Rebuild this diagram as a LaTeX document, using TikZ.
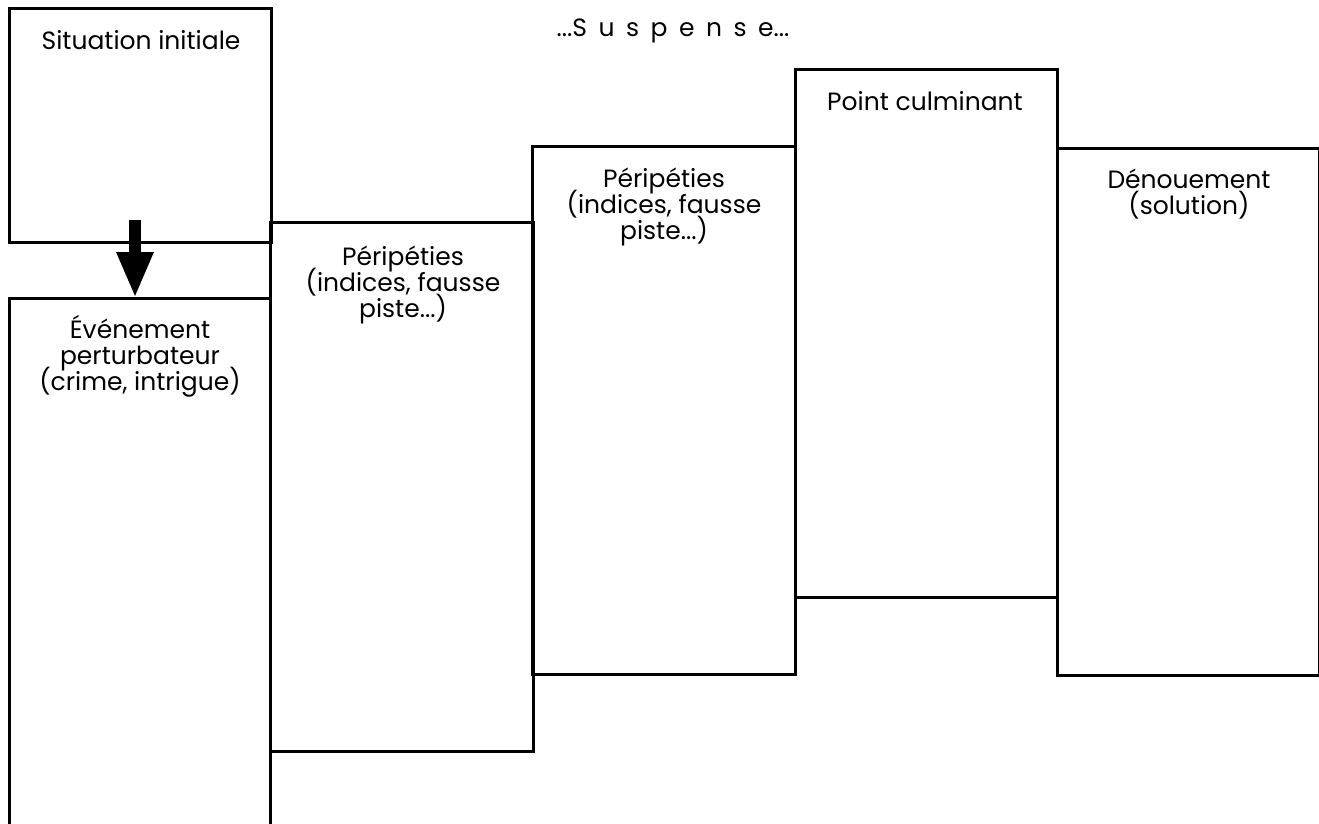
\documentclass[tikz,border=0pt]{standalone}
\usepackage{fontspec}
\setmainfont{Poppins}
\usetikzlibrary{arrows.meta}
\newcommand\lblfont{\fontsize{25}{26}\selectfont\lineskiplimit=-100pt\relax\lineskip=0pt\relax}
\tikzset{
  box/.style={draw=black, line width=3pt, anchor=north west, inner sep=0pt, outer sep=0pt},
  lbl/.style={anchor=base, align=center, inner sep=0pt, font=\lblfont},
  bigarrow/.style={line width=12pt, -{Triangle[width=34pt,length=46pt]}},
}
\begin{document}
\begin{tikzpicture}[x=1pt,y=-1pt]
\useasboundingbox (0,0) rectangle (1319,824);
\begin{scope}
\clip (0,0) rectangle (1319,824);
\node[box, minimum width=262pt, minimum height=233pt] (si) at (9,9) {};
\node[box, minimum width=261pt, minimum height=560pt] (ev) at (9,298) {};
\node[box, minimum width=263pt, minimum height=529pt] (p1) at (270,222) {};
\node[box, minimum width=263pt, minimum height=528pt] (p2) at (532,146) {};
\node[box, minimum width=262pt, minimum height=527pt] (pc) at (795,70) {};
\node[box, minimum width=262pt, minimum height=527pt] (de) at (1057,148) {};
\end{scope}
\node[lbl] (tsi) at (141,50) {Situation initiale};
\node[lbl] (tsu) at (673,37) {\spaceskip=11.5pt\relax ...S u s p e n s e...};
\node[lbl] (tev) at (140,390) {Événement\\perturbateur\\(crime, intrigue)};
\node[lbl] (tp1) at (403,317) {Péripéties\\(indices, fausse\\piste...)};
\node[lbl] (tp2) at (664,239) {Péripéties\\(indices, fausse\\piste...)};
\node[lbl] (tpc) at (925,111) {Point culminant};
\node[lbl] (tde) at (1189,214) {Dénouement\\(solution)};
\coordinate (atop) at (135,220);
\draw[bigarrow] (atop) -- (atop |- ev.north);
\end{tikzpicture}
\end{document}
